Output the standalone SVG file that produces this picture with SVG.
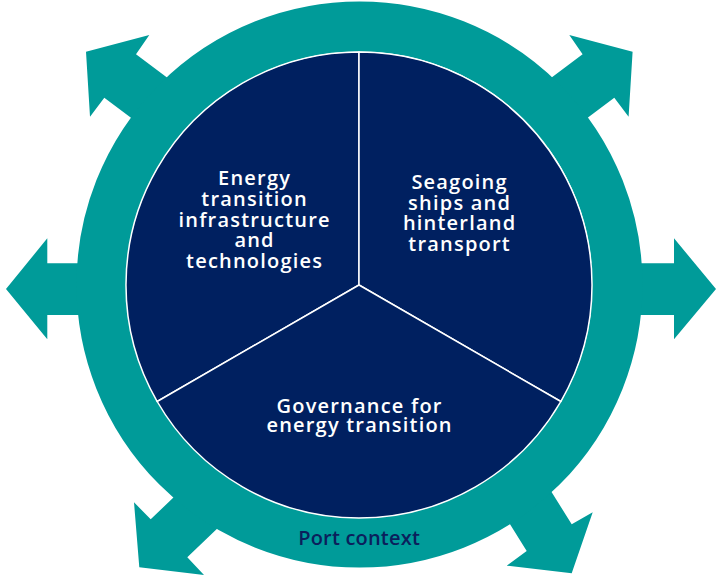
<svg xmlns="http://www.w3.org/2000/svg" width="720" height="576" viewBox="0 0 720 576">
  <style>
    .teal { fill: #009B99; }
    .sector { fill: #002060; stroke: #FFFFFF; stroke-width: 1.5; stroke-linejoin: round; }
    .label { font-family: "Open Sans", "Liberation Sans", sans-serif; font-weight: 600; font-size: 20px; letter-spacing: 1.2px; text-anchor: middle; fill: #FFFFFF; }
    .ctx { fill: #0B1F5C; letter-spacing: 0.2px; }
  </style>
  <rect width="720" height="576" fill="#FFFFFF"/>
  <g id="port-context">
    <g id="arrows">
      <polygon class="teal" points="86,51.7 149.3,35 136,54.3 256,144.3 224.3,187.7 104.3,97.7 90,116.7"/>
      <polygon class="teal" points="632.6,51.7 569.3,35 582.6,54.3 462.6,144.3 494.3,187.7 614.3,97.7 628.6,116.7"/>
      <polygon class="teal" points="6,289 47.3,238.3 47.3,263.3 200,263.3 200,315 47.3,315 47.3,339.3"/>
      <polygon class="teal" points="716,289 674,238.3 674,263.3 520,263.3 520,315 674,315 674,339.3"/>
      <polygon class="teal" points="139.3,567.3 134,502.3 150.7,519.3 258.7,415.8 295.3,453.8 187.3,557.3 204,575"/>
      <polygon class="teal" points="571.7,573.3 592.7,512.3 571.7,524.3 492.2,396.8 447.2,423.5 526.7,551 506.7,565.7"/>
    </g>
    <circle cx="359.5" cy="284.5" r="258" fill="none" stroke="#009B99" stroke-width="50"/>
    <text class="label ctx" x="359.1" y="545">Port context</text>
  </g>
  <g id="energy-infrastructure">
    <path class="sector" d="M359,285 L359,52 A233,233 0 0 0 157.2,401.5 Z"/>
    <text class="label" x="254.6" y="185"><tspan x="254.6" y="185">Energy</tspan><tspan x="254.6" y="205.8">transition</tspan><tspan x="254.6" y="226.6">infrastructure</tspan><tspan x="254.6" y="247.4">and</tspan><tspan x="254.6" y="268.2">technologies</tspan></text>
  </g>
  <g id="seagoing-ships">
    <path class="sector" d="M359,285 L560.8,401.5 A233,233 0 0 0 359,52 Z"/>
    <text class="label" x="459.6" y="189"><tspan x="459.6" y="189">Seagoing</tspan><tspan x="459.6" y="209.5">ships and</tspan><tspan x="459.6" y="230">hinterland</tspan><tspan x="459.6" y="251">transport</tspan></text>
  </g>
  <g id="governance">
    <path class="sector" d="M359,285 L157.2,401.5 A233,233 0 0 0 560.8,401.5 Z"/>
    <text class="label" x="359.6" y="413.3"><tspan x="359.6" y="413.3">Governance for</tspan><tspan x="359.6" y="431.7">energy transition</tspan></text>
  </g>
</svg>
